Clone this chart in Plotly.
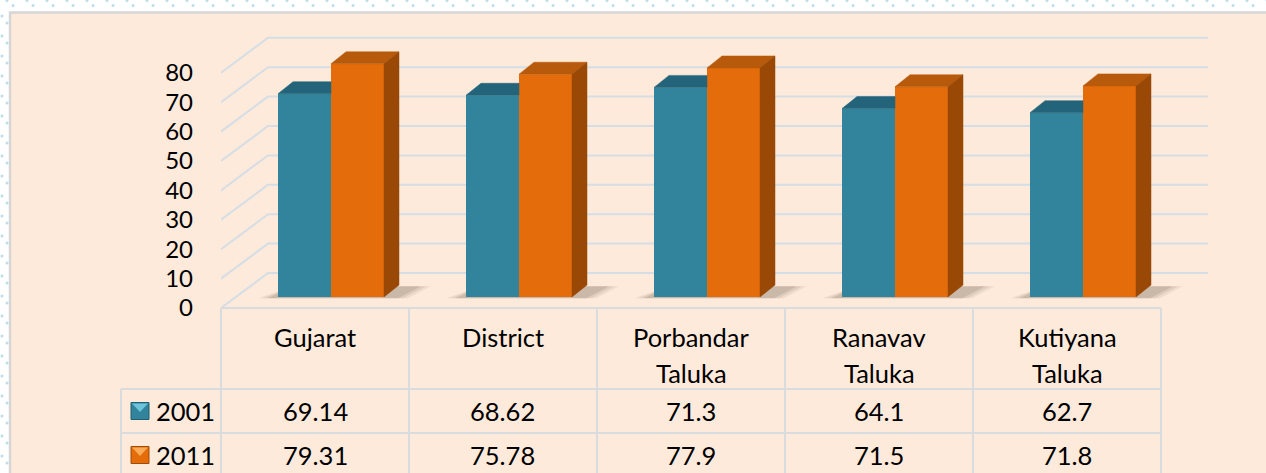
import plotly.graph_objects as go

# ---------------- data ----------------
categories = ["Gujarat", "District", "Porbandar\nTaluka", "Ranavav\nTaluka", "Kutiyana\nTaluka"]
series_names = ["2001", "2011"]
values_2001 = [69.14, 68.62, 71.3, 64.1, 62.7]
values_2011 = [79.31, 75.78, 77.9, 71.5, 71.8]
y_ticks = [0, 10, 20, 30, 40, 50, 60, 70, 80]

# ---------------- style / geometry ----------------
W, H = 1266, 473
FONT = "Lato, Carlito, Calibri, sans-serif"
FS = 25.5
FS_TICK = 24
BLUE, BLUE_TOP = "#31849B", "#23647A"
ORANGE, ORANGE_TOP, ORANGE_SIDE = "#E46C0A", "#B85A0B", "#994805"
GRID = "#D5DDE5"
TABLE_LINE = "#D9DCDF"
CARD = "#FDEADB"

PXU = 2.94            # pixels per value unit
Y0 = 308              # pixel row of value 0 (front plane)
TOP = 20              # pixel row of top of plot area
C0, COLW = 315, 188   # category centre pixel, column width
XL_PX, XR_PX = 221, 1210

BASE = 11 / PXU       # depth offset of bar front faces
BAR_W = 53 / COLW
SHIFT = 16 / COLW
DX, DY = 15 / COLW, 12 / PXU
WALL_DX, WALL_DY = 47 / COLW, 35 / PXU
XL = (XL_PX - C0) / COLW
XBACK = (1208 - C0) / COLW
PX1 = 1 / COLW        # one pixel in x units


def px(x):
    return x / W


def py(y):
    return 1 - y / H


fig = go.Figure()
shapes = []

# card
shapes.append(dict(type="rect", xref="paper", yref="paper", x0=px(10), x1=px(W + 20),
                   y0=py(H + 20), y1=py(12.5), fillcolor=CARD,
                   line=dict(color="#D6D6D6", width=2.5), layer="below"))

# back wall + left wall gridlines (below the bars)
for v in y_ticks:
    shapes.append(dict(type="path", xref="x", yref="y", layer="below",
                       path=f"M {XL},{v} L {XL + WALL_DX},{v + WALL_DY} L {XBACK},{v + WALL_DY}",
                       line=dict(color=GRID, width=2)))

idx = list(range(len(categories)))
xs = [i + SHIFT for i in idx]

# soft floor shadows
for x in xs:
    xl, xr = x - BAR_W, x + BAR_W
    for k, a in enumerate([0.07, 0.09, 0.12]):
        e = (2 - k) * 5 * PX1
        shapes.append(dict(type="path", xref="x", yref="y", layer="below",
                           path=f"M {xl - 10 * PX1 - e},{BASE - 0.4} "
                                f"L {xr + 14 * PX1 + e},{BASE - 0.4} "
                                f"L {xr + DX + 22 * PX1 + e},{BASE + DY * 0.9} "
                                f"L {xl + DX},{BASE + DY * 0.9} Z",
                           fillcolor=f"rgba(60,40,25,{a})", line=dict(width=0)))

fig.add_trace(go.Bar(x=xs, y=values_2001, base=BASE, width=BAR_W, offset=-BAR_W,
                     marker=dict(color=BLUE, line=dict(width=0)), name=series_names[0],
                     showlegend=False))
fig.add_trace(go.Bar(x=xs, y=values_2011, base=BASE, width=BAR_W, offset=0,
                     marker=dict(color=ORANGE, line=dict(width=0)), name=series_names[1],
                     showlegend=False))

# 3D tops / sides
bt_x, bt_y = [], []
for x, v in zip(xs, values_2001):
    xl, xr, t = x - BAR_W, x, BASE + v
    bt_x += [xl, xr, xr, xl + DX, xl, None]
    bt_y += [t, t, t + DY, t + DY, t, None]
fig.add_trace(go.Scatter(x=bt_x, y=bt_y, fill="toself", mode="lines",
                         line=dict(color=BLUE_TOP, width=0.5), fillcolor=BLUE_TOP,
                         hoverinfo="skip", showlegend=False))

ot_x, ot_y, os_x, os_y = [], [], [], []
for x, v in zip(xs, values_2011):
    xl, xr, t = x, x + BAR_W, BASE + v
    ot_x += [xl, xr, xr + DX, xl + DX, xl, None]
    ot_y += [t, t, t + DY, t + DY, t, None]
    os_x += [xr, xr + DX, xr + DX, xr, xr, None]
    os_y += [BASE, BASE + DY, t + DY, t, BASE, None]
fig.add_trace(go.Scatter(x=ot_x, y=ot_y, fill="toself", mode="lines",
                         line=dict(color=ORANGE_TOP, width=0.5), fillcolor=ORANGE_TOP,
                         hoverinfo="skip", showlegend=False))
fig.add_trace(go.Scatter(x=os_x, y=os_y, fill="toself", mode="lines",
                         line=dict(color=ORANGE_SIDE, width=0.5), fillcolor=ORANGE_SIDE,
                         hoverinfo="skip", showlegend=False))

# table
edges = [C0 + COLW * (i - 0.5) for i in range(len(categories) + 1)]
L = dict(color=TABLE_LINE, width=2)
shapes.append(dict(type="line", xref="paper", yref="paper", x0=px(edges[0]), x1=px(edges[-1]),
                   y0=py(308), y1=py(308), line=L))
for yy in (389, 433):
    shapes.append(dict(type="line", xref="paper", yref="paper", x0=px(121), x1=px(edges[-1]),
                       y0=py(yy), y1=py(yy), line=L))
for e in edges:
    shapes.append(dict(type="line", xref="paper", yref="paper", x0=px(e), x1=px(e),
                       y0=py(308), y1=py(H + 10), line=L))
shapes.append(dict(type="line", xref="paper", yref="paper", x0=px(121), x1=px(121),
                   y0=py(389), y1=py(H + 10), line=L))

annotations = []
for i, cat in enumerate(categories):
    for k, line in enumerate(cat.split("\n")):
        annotations.append(dict(x=px(C0 + COLW * i), y=py(337 + 36 * k), xref="paper", yref="paper",
                                text=line, showarrow=False, xanchor="center", yanchor="middle",
                                font=dict(family=FONT, size=FS, color="#000000")))

row_y = [411, 455]
row_cols = [(BLUE, "#6CC3DA", "#1F5F73"), (ORANGE, "#FBAA55", "#A14C06")]
for r, (name, vals) in enumerate(zip(series_names, [values_2001, values_2011])):
    yc = row_y[r]
    main, light, dark = row_cols[r]
    shapes.append(dict(type="rect", xref="paper", yref="paper", x0=px(131), x1=px(149),
                       y0=py(yc + 8.5), y1=py(yc - 8.5), fillcolor=main,
                       line=dict(color=dark, width=1)))
    shapes.append(dict(type="path", xref="paper", yref="paper",
                       path=f"M {px(132)},{py(yc - 7.5)} L {px(148)},{py(yc - 7.5)} "
                            f"L {px(140)},{py(yc + 1)} Z",
                       fillcolor=light, line=dict(width=0)))
    annotations.append(dict(x=px(154), y=py(yc), xref="paper", yref="paper", text=name,
                            showarrow=False, xanchor="left", yanchor="middle",
                            font=dict(family=FONT, size=FS, color="#000000")))
    for i, v in enumerate(vals):
        annotations.append(dict(x=px(C0 + COLW * i), y=py(yc), xref="paper", yref="paper",
                                text=f"{v:g}", showarrow=False, xanchor="center", yanchor="middle",
                                font=dict(family=FONT, size=FS, color="#000000")))

# dotted page pattern outside the card (decoration)
dx_, dy_ = [], []
for r, yy in enumerate([0.5, 5.5]):
    off = 7 if r == 0 else 13
    for k in range(70):
        dx_.append(off + 20 * k)
        dy_.append(yy)
for c, xx in enumerate([2, 7]):
    off = 16 if c == 0 else 23
    for k in range(26):
        dx_.append(xx)
        dy_.append(off + 20 * k)
fig.add_trace(go.Scatter(x=dx_, y=dy_, xaxis="x2", yaxis="y2", mode="markers",
                         marker=dict(size=3, color="#BCDDEA"), hoverinfo="skip",
                         showlegend=False))

fig.update_layout(
    width=W, height=H,
    margin=dict(l=0, r=0, t=0, b=0, pad=0, autoexpand=False),
    paper_bgcolor="#FFFFFF", plot_bgcolor="rgba(0,0,0,0)",
    barmode="overlay", showlegend=False,
    xaxis=dict(domain=[px(XL_PX), px(XR_PX)], range=[XL, (XR_PX - C0) / COLW],
               showgrid=False, zeroline=False, showline=False, showticklabels=False,
               automargin=False, fixedrange=True),
    yaxis=dict(domain=[py(Y0), py(TOP)], range=[0, (Y0 - TOP) / PXU],
               tickvals=y_ticks, ticktext=[str(t) for t in y_ticks],
               showgrid=False, zeroline=False, showline=False, ticks="",
               ticklabelstandoff=27, automargin=False,
               tickfont=dict(family=FONT, size=FS_TICK, color="#000000"), fixedrange=True),
    xaxis2=dict(domain=[0, 1], range=[0, W], visible=False, anchor="y2", fixedrange=True,
                automargin=False),
    yaxis2=dict(domain=[0, 1], range=[H, 0], visible=False, anchor="x2", fixedrange=True,
                automargin=False),
    shapes=shapes,
    annotations=annotations,
)

post = (
    "var gd=document.getElementById('{plot_id}');"
    "gd.style.position='fixed';gd.style.top='0px';gd.style.left='0px';"
    "document.documentElement.style.margin='0';document.documentElement.style.overflow='hidden';"
    "document.body.style.margin='0';document.body.style.padding='0';"
    "document.body.style.overflow='hidden';window.scrollTo(0,0);"
)
fig.write_html("out.html", config={"displayModeBar": False}, post_script=post)
